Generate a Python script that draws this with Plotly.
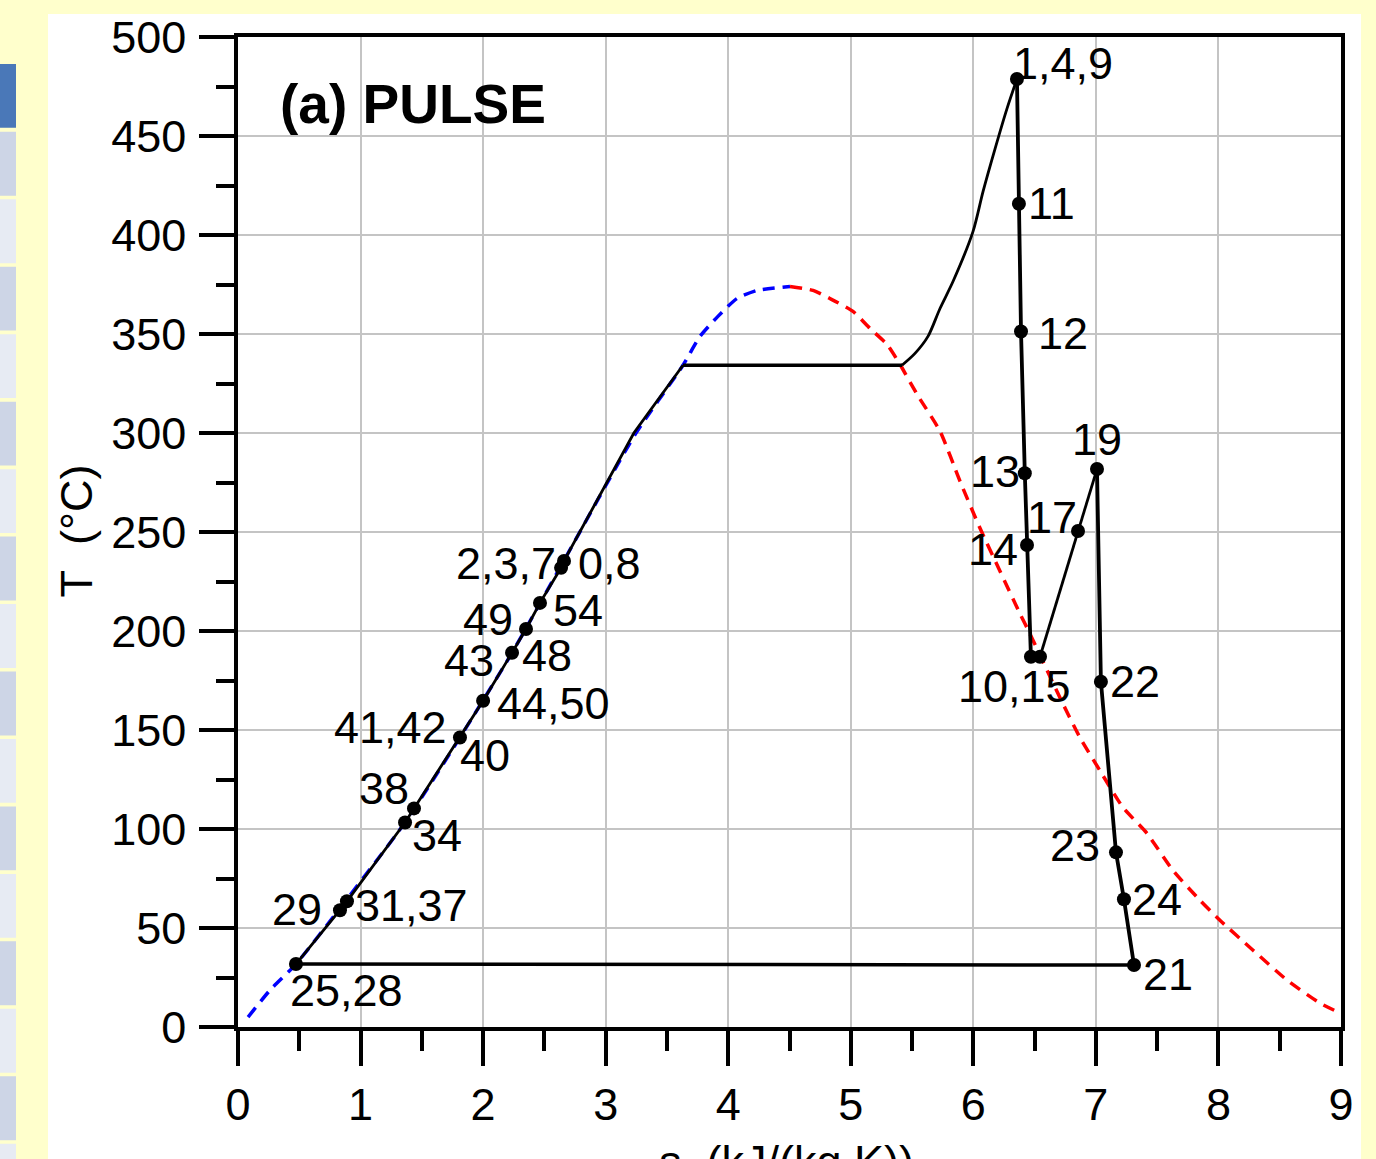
import plotly.graph_objects as go

# ---------------- data ----------------
# saturation dome
sat_liq_s = [0.082, 0.261, 0.473, 0.832, 1.363, 1.811, 2.236, 2.644, 3.247, 3.631, 3.770, 3.916, 4.071, 4.235, 4.504]
sat_liq_T = [5.0, 18.6, 31.8, 60.0, 103.3, 146.2, 189.0, 233.9, 299.9, 334.2, 348.8, 358.9, 367.9, 372.0, 374.0]
sat_vap_s = [4.504, 4.692, 4.830, 5.018, 5.157, 5.295, 5.401, 5.540, 5.728, 5.891, 6.054, 6.217, 6.381,
             6.462, 6.707, 6.870, 7.033, 7.221, 7.417, 7.629, 7.849, 8.012, 8.282, 8.559, 8.828, 8.991]
sat_vap_T = [374.0, 372.0, 367.9, 361.4, 352.8, 344.8, 334.7, 319.6, 300.9, 275.7, 252.0, 230.3, 208.7,
             198.6, 166.3, 146.2, 129.5, 110.9, 97.8, 79.1, 64.0, 53.9, 38.8, 23.7, 12.1, 7.1]

# state points
state_names = ["1,4,9", "11", "12", "13", "14", "10", "15", "17", "19", "22", "23", "24", "21",
               "25,28", "29", "31,37", "34", "38", "40", "44,50", "43,48", "49", "54", "2,3,7", "0,8"]
state_s = [6.356, 6.372, 6.389, 6.420, 6.438, 6.470, 6.544, 6.854, 7.009, 7.041, 7.164, 7.229, 7.311,
           0.473, 0.832, 0.889, 1.363, 1.436, 1.811, 2.000, 2.236, 2.350, 2.464, 2.636, 2.660]
state_T = [478.8, 415.8, 351.3, 279.7, 243.4, 187.0, 187.0, 250.5, 281.8, 174.4, 88.2, 64.5, 31.3,
           31.8, 59.0, 63.5, 103.3, 110.4, 146.2, 164.8, 189.0, 201.0, 214.2, 231.9, 235.4]

# heating path between states 0,8 and the boiling plateau, boiling plateau and superheat curve
preheat_s = [2.660, 3.230, 3.631]
preheat_T = [235.4, 300.0, 334.2]
boil_s = [3.631, 5.418]
boil_T = [334.2, 334.2]
superheat_s = [5.418, 5.524, 5.630, 5.728, 5.834, 5.997, 6.079, 6.177, 6.274, 6.356]
superheat_T = [334.2, 340.2, 348.8, 362.9, 376.5, 401.7, 421.9, 443.5, 463.7, 478.8]

# sequences of states joined by lines
liquid_seq = ["25,28", "29", "31,37", "34", "38", "40", "44,50", "43,48", "49", "54", "2,3,7", "0,8"]
expansion_seq = ["1,4,9", "11", "12", "13", "14", "10", "15"]
reheat_seq = ["15", "17", "19"]
expansion2_seq = ["19", "22", "23", "24", "21"]
condense_seq = ["21", "25,28"]

# point labels: text, state
label_text = ["1,4,9", "11", "12", "13", "14", "10,15", "17", "19", "22", "23", "24", "21",
              "25,28", "29", "31,37", "34", "38", "41,42", "40", "44,50", "43", "48", "49", "54", "2,3,7", "0,8"]
label_state = ["1,4,9", "11", "12", "13", "14", "10", "17", "19", "22", "23", "24", "21",
               "25,28", "29", "31,37", "34", "38", "40", "40", "44,50", "43,48", "43,48", "49", "54", "2,3,7", "0,8"]

x_ticks = [0, 1, 2, 3, 4, 5, 6, 7, 8, 9]
y_ticks = [0, 50, 100, 150, 200, 250, 300, 350, 400, 450, 500]

# ---------------- styles (label placement: anchor, dx px, dy px up) ----------------
label_place = {
    "1,4,9": ("left", -6, 15), "11": ("left", 7, 0), "12": ("left", 15, -2),
    "13": ("right", -3, 2), "14": ("right", -7, -4), "10,15": ("center", -16, -30),
    "17": ("right", 1, 14), "19": ("center", 0, 30), "22": ("left", 7, 0),
    "23": ("right", -14, 7), "24": ("left", 6, 0), "21": ("left", 7, -9),
    "25,28": ("left", -8, -26), "29": ("right", -16, 1), "31,37": ("left", 6, -4),
    "34": ("left", 5, -13), "38": ("right", -3, 20), "41,42": ("right", -11, 10),
    "40": ("left", -2, -18), "44,50": ("left", 12, -3), "43": ("right", -16, -8),
    "48": ("left", 8, -3), "49": ("right", -11, 10), "54": ("left", 11, -8),
    "2,3,7": ("right", -3, 4), "0,8": ("left", 12, -3),
}

FONT = "Liberation Sans, Arial, sans-serif"
LBL = 45
idx = {n: i for i, n in enumerate(state_names)}


def seq_xy(seq):
    return [state_s[idx[n]] for n in seq], [state_T[idx[n]] for n in seq]


fig = go.Figure()

# saturation dome
fig.add_trace(go.Scatter(x=sat_liq_s, y=sat_liq_T, mode="lines",
                         line=dict(color="#0000FF", width=3.5, dash="12px,8px", shape="spline", smoothing=0.6),
                         hoverinfo="skip"))
fig.add_trace(go.Scatter(x=sat_vap_s, y=sat_vap_T, mode="lines",
                         line=dict(color="#FF0000", width=3.5, dash="12px,8px", shape="spline", smoothing=0.6),
                         hoverinfo="skip"))

# cycle lines
lx, ly = seq_xy(liquid_seq)
fig.add_trace(go.Scatter(x=lx + preheat_s[1:], y=ly + preheat_T[1:], mode="lines",
                         line=dict(color="black", width=2.8)))
fig.add_trace(go.Scatter(x=boil_s, y=boil_T, mode="lines", line=dict(color="black", width=3.5)))
fig.add_trace(go.Scatter(x=superheat_s, y=superheat_T, mode="lines",
                         line=dict(color="black", width=2.8, shape="spline", smoothing=0.8)))
for seq, w in [(expansion_seq, 3.8), (reheat_seq, 2.8), (expansion2_seq, 3.8), (condense_seq, 3.5)]:
    sx, sy = seq_xy(seq)
    fig.add_trace(go.Scatter(x=sx, y=sy, mode="lines", line=dict(color="black", width=w)))

# state markers
fig.add_trace(go.Scatter(x=state_s, y=state_T, mode="markers",
                         marker=dict(color="black", size=14), text=state_names, hoverinfo="text"))

# labels
for t, st in zip(label_text, label_state):
    anc, dx, dy = label_place[t]
    fig.add_annotation(x=state_s[idx[st]], y=state_T[idx[st]], text=t, showarrow=False,
                       xanchor=anc, yanchor="middle", xshift=dx, yshift=dy,
                       font=dict(family=FONT, size=LBL, color="black"))

# title text
fig.add_annotation(xref="paper", yref="paper", x=0.036, y=0.9325, text="<b>(a) PULSE</b>",
                   showarrow=False, xanchor="left", yanchor="middle",
                   font=dict(family=FONT, size=55, color="black"))
# axis titles
fig.add_annotation(xref="paper", yref="paper", x=-0.1465, y=0.501, text="T\u00a0\u00a0(°C)",
                   textangle=-90, showarrow=False, xanchor="center", yanchor="middle",
                   font=dict(family=FONT, size=45, color="black"))
fig.add_annotation(xref="paper", yref="paper", x=0.497, y=-0.136, text="s\u00a0\u00a0(kJ/(kg\u00a0K))",
                   showarrow=False, xanchor="center", yanchor="middle",
                   font=dict(family=FONT, size=45, color="black"))

# background decorations: white panel and left side strip
L, R, T0, B = 238.0, 1341.0, 35.0, 1027.0


def px(xp):
    return (xp - L) / (R - L)


def py(yp):
    return (B - yp) / (B - T0)


shapes = [dict(type="rect", xref="paper", yref="paper", x0=px(48), x1=px(1361), y0=py(12), y1=py(1200),
               fillcolor="white", line=dict(width=0), layer="below")]
shapes.append(dict(type="rect", xref="paper", yref="paper", x0=px(-2), x1=px(16), y0=py(62), y1=py(126),
                   fillcolor="#4A78B8", line=dict(width=0), layer="below"))
top = 130.0
k = 0
while top < 1170:
    shapes.append(dict(type="rect", xref="paper", yref="paper", x0=px(-2), x1=px(16), y0=py(top),
                       y1=py(top + 64), fillcolor="#CDD5E6" if k % 2 == 0 else "#E7EBF3",
                       line=dict(width=0), layer="below"))
    top += 67.6
    k += 1

axis_common = dict(showline=True, linecolor="black", linewidth=3.5, mirror=True,
                   ticks="outside", ticklen=35, tickwidth=3.5, tickcolor="black",
                   showgrid=True, gridcolor="#C4C4C4", gridwidth=1.5, zeroline=False,
                   tickfont=dict(family=FONT, size=45, color="black"))

fig.update_layout(
    width=1376, height=1159, autosize=False,
    margin=dict(l=238, r=35, t=35, b=132),
    paper_bgcolor="#FFFFCC", plot_bgcolor="white",
    showlegend=False, shapes=shapes,
    xaxis=dict(range=[0, 9], tickvals=x_ticks, ticktext=[str(v) for v in x_ticks],
               minor=dict(dtick=0.5, ticks="outside", ticklen=20, tickwidth=3.5, tickcolor="black",
                          showgrid=False), **axis_common),
    yaxis=dict(range=[0, 500], tickvals=y_ticks, ticktext=[str(v) for v in y_ticks],
               ticklabelstandoff=4,
               minor=dict(dtick=25, ticks="outside", ticklen=18, tickwidth=3.5, tickcolor="black",
                          showgrid=False), **axis_common),
)

fig.write_html("out.html", config={"displayModeBar": False},
               post_script="document.body.style.margin='0';document.body.style.padding='0';"
                           "document.body.style.overflow='hidden';"
                           "document.body.style.background='#FFFFCC';")
